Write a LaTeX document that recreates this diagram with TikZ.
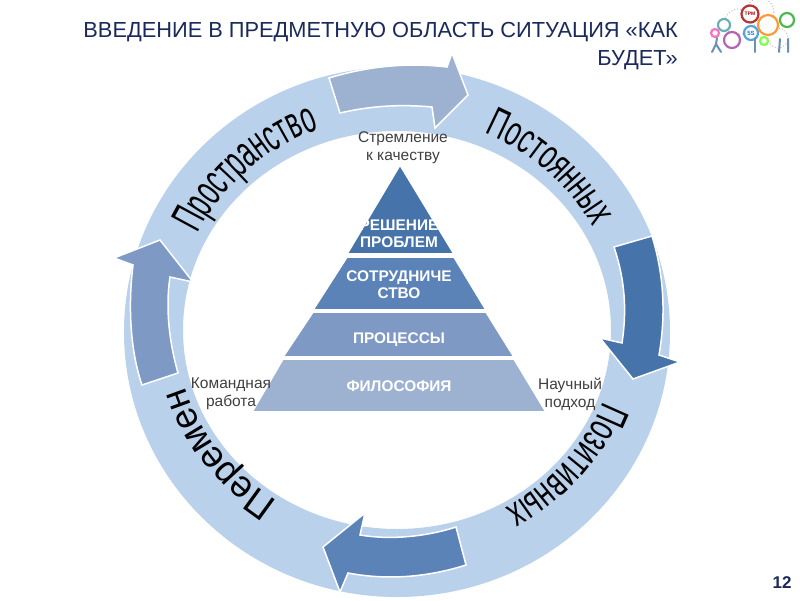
\documentclass[tikz,border=0pt]{standalone}
\usepackage{fontspec}
\setmainfont{Liberation Sans}
\newcommand{\wafont}{\fontsize{26}{26}\selectfont}
\definecolor{ringblue}{HTML}{B9D1EA}
\definecolor{cA}{HTML}{9DB2D1}
\definecolor{cB}{HTML}{4673A9}
\definecolor{cC}{HTML}{5B83B8}
\definecolor{cD}{HTML}{7E9AC4}
\definecolor{navy}{HTML}{1B2A5B}
\definecolor{grayt}{HTML}{404040}
\tikzset{
  blockarrow/.style={draw=white,line width=1.5pt,line join=miter},
  tier/.style={draw=white,line width=1.6pt,line join=miter},
  tiertext/.style={text=white,font=\fontsize{15.4}{16.5}\selectfont\bfseries,align=center,inner sep=0pt},
  sidetext/.style={text=grayt,font=\fontsize{15.5}{18}\selectfont,align=center,inner sep=0pt},
  wordletter/.style={anchor=base,inner sep=0pt,outer sep=0pt,text=black},
  gear/.style={line width=2.2pt,fill=white,fill opacity=.75},
  person/.style={draw=#1,line width=2pt,line cap=round},
}
\newcommand{\arcword}[5]{%
  \gdef\arcacc{0}%
  \foreach \ch/\wdt [count=\ci] in {#5}{%
    \pgfmathsetmacro{\angw}{#1-#2*26*(\arcacc+0.5*\wdt)}%
    \pgfmathsetmacro{\xsw}{#2*3.1416/180*215.5}%
    \pgfmathsetmacro{\nxtacc}{\arcacc+\wdt}%
    \xdef\arcacc{\nxtacc}%
    \node[wordletter,rotate=\angw-90] (#4\ci) at ({397+222*cos(\angw)},{325-209*sin(\angw)}) {\scalebox{\xsw}[#3]{\wafont\ch}};
  }%
}
\begin{document}
\begin{tikzpicture}[x=1pt,y=-1pt]
\useasboundingbox (0,0) rectangle (800,600);
\fill[white] (0,0) rectangle (800,600);
% ring
\fill[ringblue,even odd rule] (397,332) ellipse [x radius=273,y radius=265]
   (397,330) ellipse [x radius=214,y radius=199];
% block arrows
\draw[blockarrow,fill=cA] (329,78) .. controls (365,67) and (405,62) .. (447,67)
  -- (452,53) -- (468,95) -- (435,128) -- (432,107)
  .. controls (400,104) and (370,106) .. (340,113) -- cycle;
\draw[blockarrow,fill=cB] (614,247) -- (652,236)
  .. controls (664,275) and (666,315) .. (659,355)
  -- (680,362) -- (633,379) -- (600,338) -- (622,343)
  .. controls (627,310) and (625,280) .. cycle;
\draw[blockarrow,fill=cC] (456,527) -- (466,565)
  .. controls (425,578) and (385,580) .. (348,573)
  -- (340,592) -- (323,547) -- (365,513) -- (360,535)
  .. controls (390,540) and (425,537) .. cycle;
\draw[blockarrow,fill=cD] (142,385) -- (178,373)
  .. controls (170,345) and (165,310) .. (170,277)
  -- (193,282) -- (160,240) -- (114,258) -- (133,265)
  .. controls (128,305) and (130,350) .. cycle;
% words on the ring
\arcword{154}{.258}{1.72}{pros}{П/.718,р/.556,о/.556,с/.5,т/.46,р/.556,а/.556,н/.55,с/.5,т/.46,в/.53,о/.556}
\arcword{67}{.266}{1.62}{post}{П/.718,о/.556,с/.5,т/.46,о/.556,я/.53,н/.55,н/.55,ы/.72,х/.5}
\arcword{-21.5}{.271}{1.62}{pozi}{П/.718,о/.556,з/.45,и/.56,т/.46,и/.56,в/.53,н/.55,ы/.72,х/.5}
\arcword{237.5}{.37}{1.45}{pere}{П/.718,е/.556,р/.556,е/.556,м/.68,е/.556,н/.55}
% pyramid
\draw[tier,fill=cB] (400,165) -- (454,254) -- (347,254) -- cycle;
\draw[tier,fill=cC] (347,257) -- (454,257) -- (486,310) -- (313,310) -- cycle;
\draw[tier,fill=cD] (313,312) -- (486,312) -- (514,357) -- (283,357) -- cycle;
\draw[tier,fill=cA] (283,359) -- (514,359) -- (546,412) -- (252,412) -- cycle;
\node[tiertext] (t1) at (399,234) {РЕШЕНИЕ\\ПРОБЛЕМ};
\node[tiertext] (t2) at (399,284.5) {СОТРУДНИЧЕ\\СТВО};
\node[tiertext] (t3) at (399,340) {ПРОЦЕССЫ};
\node[tiertext] (t4) at (399,386) {ФИЛОСОФИЯ};
% side labels
\node[sidetext] (s1) at (403,148) {Стремление\\к качеству};
\node[sidetext] (s2) at (231,394) {Командная\\работа};
\node[sidetext] (s3) at (570,394) {Научный\\подход};
% title
\node[anchor=north east,align=right,inner sep=0pt,text=navy,font=\fontsize{21.8}{28}\selectfont] (title) at (678,22)
  {ВВЕДЕНИЕ В ПРЕДМЕТНУЮ ОБЛАСТЬ СИТУАЦИЯ «КАК\\БУДЕТ»};
% page number
\node[inner sep=0pt,text=navy,font=\fontsize{17}{17}\selectfont\bfseries] (pageno) at (782,583) {12};
% logo
\draw[gray!50,dotted,line width=1pt] (738,22) circle (13) (760,12) circle (14) (778,38) circle (10);
\draw[gear,draw=red!65!black!80] (750,14) circle (8.5);
\draw[gear,draw=teal!60] (724,25) circle (6);
\draw[gear,draw=magenta!55] (715,33) circle (4);
\draw[gear,draw=violet!60] (732,40) circle (8);
\draw[gear,draw=cyan!70!blue!70] (751,33) circle (7);
\draw[gear,draw=orange!80] (768,25) circle (10);
\draw[gear,draw=green!60!black!70] (787,20) circle (7);
\draw[gear,draw=green!70!yellow!70] (764,41) circle (4);
\node[inner sep=0pt,text=red!70!black,font=\fontsize{5}{5}\selectfont\bfseries] (tpm) at (750,14) {TPM};
\node[inner sep=0pt,text=cyan!60!blue,font=\fontsize{6}{6}\selectfont\bfseries] (fives) at (751,33) {5S};
\draw[person=cB!80] (712,52) -- (716,44) -- (721,52) (716,44) -- (717,38);
\draw[person=cB!80] (755,52) -- (755,38);
\draw[person=cB!80] (779,52) -- (780,39) (788,52) -- (788,39);
\end{tikzpicture}
\end{document}
